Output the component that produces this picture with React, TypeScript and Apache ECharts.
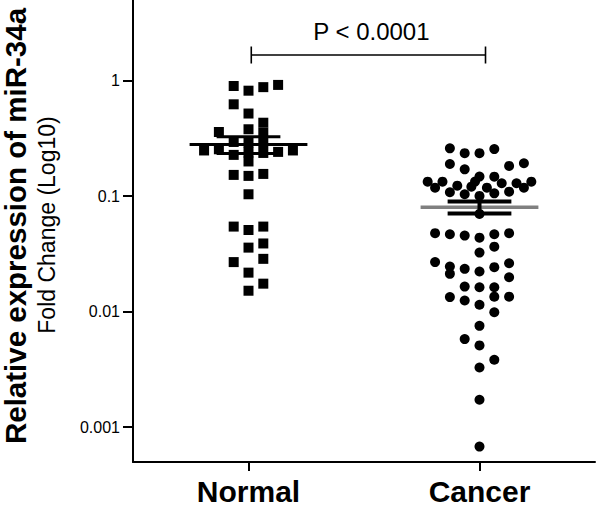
import React, { useEffect, useRef } from 'react';
import * as echarts from 'echarts';

const categories = ['Normal', 'Cancer'];
const yTickValues = [0.001, 0.01, 0.1, 1];
const yTickLabels = ['0.001', '0.01', '0.1', '1'];
const yRange = [0.0005, 5];
const yTitle = 'Relative expression of miR-34a';
const ySubtitle = 'Fold Change (Log10)';
const pLabel = 'P < 0.0001';

// Normal group: fold change values and beeswarm column
const normalValues = [
  0.90, 0.82, 0.88, 0.92, 0.625, 0.52, 0.433, 0.38, 0.36, 0.355,
  0.295, 0.228, 0.289, 0.239, 0.20, 0.289, 0.237, 0.249, 0.255, 0.242, 0.249,
  0.153, 0.150, 0.156,
  0.104, 0.0546, 0.051, 0.0546, 0.0359, 0.039, 0.0269, 0.0287, 0.0218, 0.0175, 0.0152,
];
const normalColumns = [
  -1, 0, 1, 2, -1, 0, 1, 0, -2, 1,
  -1, -1, 0, 0, 0, 1, 1, -3, -2, 2, 3,
  -1, 0, 1,
  0, -1, 0, 1, 0, 1, -1, 1, 0, 1, 0,
];

// Cancer group
const cancerValues = [
  0.26, 0.236, 0.236, 0.256, 0.19, 0.171, 0.183, 0.193,
  0.1337, 0.1187, 0.1337, 0.1083, 0.1235, 0.104,
  0.148, 0.134, 0.121,
  0.1006, 0.1187, 0.1477, 0.106, 0.1296, 0.1096, 0.1296, 0.1187, 0.1337,
  0.0703,
  0.0479, 0.0469, 0.0456, 0.0438, 0.0469, 0.0479, 0.0366, 0.0325,
  0.0269, 0.0246, 0.0213, 0.0235, 0.0223, 0.0243, 0.0263, 0.0199,
  0.0165, 0.0163, 0.0163, 0.0134, 0.0125, 0.0115, 0.0135, 0.0135,
  0.0099, 0.00755, 0.0058, 0.00511, 0.00384, 0.00329, 0.00173, 0.00068,
];
const cancerColumns = [
  -2, -1, 0, 1, -2, -1, 2, 3,
  -3.5, -3, -2.5, -2, -1.5, -1,
  0, -0.3, -0.55,
  0, 0.5, 1, 1, 1.5, 2, 2.5, 3, 3.5,
  0,
  -3, -2, -1, 0, 1, 2, 1, 0,
  -3, -2, -2, -1, 0, 1, 2, 2,
  -1, 0, 1, -2, -1, 0, 1, 2,
  1, 0, -1, 0, 1, 0, 0, 0,
];

const groupMeans = [0.281, 0.0804];
const groupSEM = [0.047, 0.0097];
const bracketEnds = [0.512, 1.526];
const bracketLevel = 1.67;

const FONT = "'Liberation Sans', Arial, Helvetica, sans-serif";
const COL = 0.0641;
const centers = [0.5, 1.5];
const lg = (v: number) => Math.log10(v);

export default function App() {
  const ref = useRef<HTMLDivElement>(null);
  useEffect(() => {
    if (!ref.current) return;
    const chart = echarts.init(ref.current, null, { renderer: 'svg' });

    const normalData = normalValues.map((v, i) => [centers[0] + normalColumns[i] * COL, lg(v)]);
    const cancerData = cancerValues.map((v, i) => [centers[1] + cancerColumns[i] * COL, lg(v)]);
    const statsData = groupMeans.map((m, i) => [centers[i], lg(m), lg(m + groupSEM[i]), lg(m - groupSEM[i])]);

    chart.setOption({
      animation: false,
      backgroundColor: '#ffffff',
      grid: { left: 133, right: 5, top: 0, bottom: 44, containLabel: false },
      xAxis: {
        type: 'value',
        min: 0,
        max: 2,
        splitLine: { show: false },
        axisLine: { show: true, onZero: false, lineStyle: { color: '#000', width: 2 } },
        axisTick: { show: true, length: 9, lineStyle: { color: '#000', width: 2 }, customValues: centers },
        axisLabel: {
          customValues: centers,
          margin: 14,
          color: '#000',
          fontSize: 30,
          fontWeight: 'bold',
          fontFamily: FONT,
          formatter: (v: number) => categories[Math.round(v - 0.5)] ?? '',
        },
      },
      yAxis: {
        type: 'value',
        min: lg(yRange[0]),
        max: lg(yRange[1]),
        splitLine: { show: false },
        axisLine: { show: true, onZero: false, lineStyle: { color: '#000', width: 2 } },
        axisTick: { show: true, length: 10, lineStyle: { color: '#000', width: 2 }, customValues: yTickValues.map(lg) },
        axisLabel: {
          customValues: yTickValues.map(lg),
          margin: 13,
          color: '#000',
          fontSize: 16,
          fontFamily: FONT,
          formatter: (v: number) => {
            const i = yTickValues.findIndex((t) => Math.abs(lg(t) - v) < 1e-6);
            return i >= 0 ? yTickLabels[i] : '';
          },
        },
      },
      graphic: [
        {
          type: 'text',
          x: 15.5,
          y: 226,
          rotation: Math.PI / 2,
          style: {
            text: yTitle,
            fontSize: 29.5,
            lineHeight: 28,
            fontWeight: 'bold',
            fontFamily: FONT,
            fill: '#000',
            align: 'center',
            verticalAlign: 'middle',
          },
        },
        {
          type: 'text',
          x: 47,
          y: 225,
          rotation: Math.PI / 2,
          style: {
            text: ySubtitle,
            fontSize: 23,
            fontFamily: FONT,
            fill: '#000',
            align: 'center',
            verticalAlign: 'middle',
          },
        },
      ],
      series: [
        {
          name: categories[0],
          type: 'scatter',
          symbol: 'rect',
          symbolSize: 10,
          itemStyle: { color: '#000', opacity: 1 },
          data: normalData,
          z: 2,
        },
        {
          name: categories[1],
          type: 'scatter',
          symbol: 'circle',
          symbolSize: 10,
          itemStyle: { color: '#000', opacity: 1 },
          data: cancerData,
          z: 2,
        },
        {
          type: 'custom',
          z: 3,
          data: statsData,
          encode: { x: 0, y: 1 },
          renderItem: (params: any, api: any) => {
            const i = params.dataIndex;
            const cx = api.value(0);
            const m = api.value(1);
            const hi = api.value(2);
            const lo = api.value(3);
            const wMean = 0.255;
            const wSem = 0.138;
            const a = api.coord([cx - wMean, m]);
            const b = api.coord([cx + wMean, m]);
            const up = api.coord([cx, hi]);
            const dn = api.coord([cx, lo]);
            const ul = api.coord([cx - wSem, hi]);
            const ur = api.coord([cx + wSem, hi]);
            const ll = api.coord([cx - wSem, lo]);
            const lr = api.coord([cx + wSem, lo]);
            const meanColor = i === 1 ? '#808080' : '#000';
            const mw = i === 1 ? 3.5 : 3;
            const sw = i === 1 ? 4 : 3;
            return {
              type: 'group',
              children: [
                { type: 'line', shape: { x1: a[0], y1: a[1], x2: b[0], y2: b[1] }, style: { stroke: meanColor, lineWidth: mw } },
                { type: 'line', shape: { x1: up[0], y1: up[1], x2: dn[0], y2: dn[1] }, style: { stroke: '#000', lineWidth: sw } },
                { type: 'line', shape: { x1: ul[0], y1: ul[1], x2: ur[0], y2: ur[1] }, style: { stroke: '#000', lineWidth: sw } },
                { type: 'line', shape: { x1: ll[0], y1: ll[1], x2: lr[0], y2: lr[1] }, style: { stroke: '#000', lineWidth: sw } },
              ],
            };
          },
        },
        {
          type: 'custom',
          z: 3,
          data: [[bracketEnds[0], bracketEnds[1], lg(bracketLevel)]],
          encode: { x: [0, 1], y: 2 },
          renderItem: (params: any, api: any) => {
            const p1 = api.coord([api.value(0), api.value(2)]);
            const p2 = api.coord([api.value(1), api.value(2)]);
            const cap = 8.5;
            return {
              type: 'group',
              children: [
                { type: 'line', shape: { x1: p1[0], y1: p1[1], x2: p2[0], y2: p2[1] }, style: { stroke: '#000', lineWidth: 1.6 } },
                { type: 'line', shape: { x1: p1[0], y1: p1[1] - cap, x2: p1[0], y2: p1[1] + cap }, style: { stroke: '#000', lineWidth: 1.6 } },
                { type: 'line', shape: { x1: p2[0], y1: p2[1] - cap, x2: p2[0], y2: p2[1] + cap }, style: { stroke: '#000', lineWidth: 1.6 } },
                {
                  type: 'text',
                  style: {
                    text: pLabel,
                    x: (p1[0] + p2[0]) / 2 + 3,
                    y: p1[1] - 24,
                    align: 'center',
                    verticalAlign: 'middle',
                    fontSize: 24,
                    fontFamily: FONT,
                    fill: '#000',
                  },
                },
              ],
            };
          },
        },
      ],
    });
    return () => chart.dispose();
  }, []);
  return <div ref={ref} style={{ position: 'fixed', left: 0, top: 0, width: 600, height: 506 }} />;
}
